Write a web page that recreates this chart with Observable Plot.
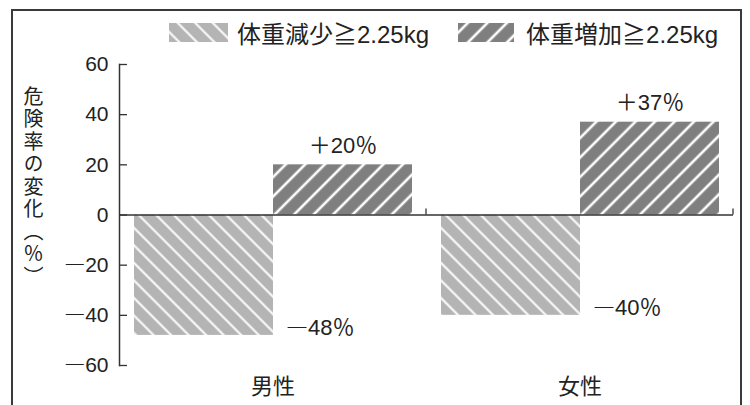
<!DOCTYPE html>
<html><head><meta charset="utf-8">
<script src="https://cdn.jsdelivr.net/npm/d3@7"></script>
<script src="https://cdn.jsdelivr.net/npm/@observablehq/plot@0.6"></script>
<style>
html,body{margin:0;padding:0;background:#fff;}
#wrap{position:relative;width:750px;height:405px;overflow:hidden;font-family:"Liberation Sans","Noto Sans CJK JP",sans-serif;color:#222;}
#frame{position:absolute;left:11px;top:9px;width:731px;height:430px;border:2px solid #3a3a3a;box-sizing:border-box;}
#legend{position:absolute;left:169px;top:20px;height:25px;display:flex;align-items:center;font-size:24px;white-space:nowrap;}
#legend svg{display:block;}
#ytitle{position:absolute;left:23px;top:86px;writing-mode:vertical-rl;font-size:20px;letter-spacing:2.5px;line-height:20px;font-family:"Noto Sans CJK JP",sans-serif;color:#222;}
#chart{position:absolute;left:0;top:50px;}
</style>
</head><body>
<div id="wrap">
  <div id="frame"></div>
  <div id="legend"></div>
  <div id="ytitle"></div>
  <div id="chart"></div>
</div>
<script>
// ---- data ----
const categories = ["男性", "女性"];
const seriesKeys = ["loss", "gain"];
const seriesLabels = ["体重減少≧2.25kg", "体重増加≧2.25kg"];
const lossValues = [-48, -40];
const gainValues = [20, 37];
const yTicks = [-60, -40, -20, 0, 20, 40, 60];
const yTitle = "危険率の変化（％）";

// ---- styles ----
const patterns = {
  loss: {bg: "#b4b4b4", spacing: 12.4, lineW: 2, angle: -45},
  gain: {bg: "#7f7f7f", spacing: 13.8, lineW: 2.6, angle: 45}
};
const fontFamily = '"Liberation Sans","Noto Sans CJK JP",sans-serif';

function addPatterns(defs, prefix) {
  for (const k of seriesKeys) {
    const s = patterns[k];
    const p = defs.append("pattern").attr("id", prefix + k)
      .attr("patternUnits", "userSpaceOnUse")
      .attr("width", s.spacing).attr("height", s.spacing)
      .attr("patternTransform", `rotate(${s.angle})`);
    p.append("rect").attr("width", s.spacing).attr("height", s.spacing).attr("fill", s.bg);
    p.append("line").attr("x1", s.spacing / 2).attr("x2", s.spacing / 2)
      .attr("y1", -1).attr("y2", s.spacing + 1)
      .attr("stroke", "#fff").attr("stroke-width", s.lineW);
  }
}

const data = categories.flatMap((c, i) => [
  {sex: c, kind: seriesKeys[0], value: lossValues[i]},
  {sex: c, kind: seriesKeys[1], value: gainValues[i]}
]);
const lossData = data.filter(d => d.kind === seriesKeys[0]);
const gainData = data.filter(d => d.kind === seriesKeys[1]);
const DASH = "\u2015"; // full-width minus look of Japanese typesetting
const fmtVal = v => (v < 0 ? DASH + (-v) : "＋" + v) + "％";
const fmtTick = v => (v < 0 ? DASH + (-v) : String(v));

// ---- legend ----
const legend = d3.select("#legend");
seriesKeys.forEach((k, i) => {
  const sw = legend.append("svg").attr("width", i === 0 ? 59 : 56).attr("height", 19)
    .style("margin-left", i === 0 ? "0px" : "29px");
  addPatterns(sw.append("defs"), "lg-" + i + "-");
  sw.append("rect").attr("width", "100%").attr("height", "100%").attr("fill", `url(#lg-${i}-${k})`);
  legend.append("span").text(seriesLabels[i]).style("margin-left", i === 0 ? "9px" : "12px");
});

d3.select("#ytitle").text(yTitle);

// ---- chart ----
const chart = Plot.plot({
  width: 750, height: 355,
  marginTop: 14, marginBottom: 40, marginLeft: 119, marginRight: 17,
  style: {fontFamily, color: "#222", background: "transparent", overflow: "visible"},
  fx: {domain: categories, padding: 0, label: null},
  x: {domain: seriesKeys, paddingInner: 0, paddingOuter: 0.1, axis: null},
  y: {domain: [-60, 60], label: null},
  marks: [
    Plot.barY(lossData, {fx: "sex", x: "kind", y: "value", fill: "url(#pat-loss)"}),
    Plot.barY(gainData, {fx: "sex", x: "kind", y: "value", fill: "url(#pat-gain)"}),
    Plot.ruleY([0], {stroke: "#333", strokeWidth: 1.5}),
    Plot.frame({anchor: "left", facetAnchor: "left", stroke: "#333", strokeWidth: 1.5}),
    Plot.axisY(yTicks, {anchor: "left", tickSize: -8, tickPadding: 19, tickFormat: fmtTick, fontSize: 21, stroke: "#333", strokeWidth: 1.3}),
    Plot.axisFx({anchor: "bottom", tickSize: 0, tickPadding: 13, fontSize: 22, label: null}),
    Plot.text(gainData, {fx: "sex", x: "kind", y: "value", text: d => fmtVal(d.value), lineAnchor: "bottom", dy: -12, fontSize: 22}),
    Plot.text(lossData, {fx: "sex", x: () => seriesKeys[1], y: "value", text: d => fmtVal(d.value), textAnchor: "start", lineAnchor: "bottom", dx: -57, dy: 0, fontSize: 22})
  ]
});
document.getElementById("chart").appendChild(chart);

const svg = d3.select(chart);
// render the dash with the Japanese font (full-width, centred like the original)
svg.selectAll("text").each(function () {
  if (this.querySelector("tspan")) return;
  const t = this.textContent;
  if (t.startsWith(DASH)) {
    const sel = d3.select(this);
    sel.text(null);
    sel.append("tspan").style("font-family", '"Noto Sans CJK JP"').text(DASH);
    sel.append("tspan").text(t.slice(1));
  }
});

// pattern defs + end ticks of the zero line at facet edges
addPatterns(svg.insert("defs", ":first-child"), "pat-");
const fxS = chart.scale("fx"), yS = chart.scale("y");
const y0 = yS.apply(0);
for (const c of categories) {
  const xr = fxS.apply(c) + fxS.bandwidth;
  svg.append("line").attr("x1", xr).attr("x2", xr).attr("y1", y0 - 6).attr("y2", y0)
    .attr("stroke", "#333").attr("stroke-width", 1.3);
}
</script>
</body></html>
